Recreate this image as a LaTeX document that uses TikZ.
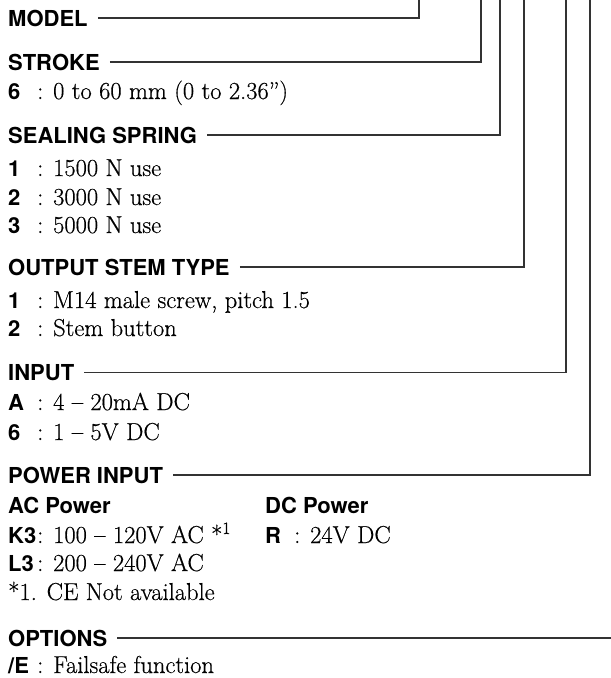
\documentclass[tikz,border=0pt]{standalone}
\usepackage{fontspec}
\setsansfont{TeX Gyre Heros}
\newfontfamily\srf{Latin Modern Roman}[Ligatures=TeX,FakeBold=0.5]
\tikzset{
  hd/.style={anchor=base west, inner sep=0pt, font=\fontsize{22}{26}\selectfont\sffamily\bfseries},
  item/.style={anchor=base west, inner sep=0pt, font=\fontsize{24.5}{29}\selectfont\srf},
  lead/.style={line width=1.1pt, draw=black!80},
}
\newcommand\cd[1]{\makebox[29pt][l]{\fontsize{22}{26}\selectfont\sffamily\bfseries #1}}
\begin{document}
\begin{tikzpicture}[x=1pt,y=-1pt]
\useasboundingbox (0,0) rectangle (611,678);
% top ends of the leaders
\coordinate (tmodel)  at (419,0);
\coordinate (tstroke) at (481,0);
\coordinate (tseal)   at (500,0);
\coordinate (tstem)   at (524,0);
\coordinate (tinput)  at (566,0);
\coordinate (tpower)  at (590,0);
\coordinate (redge)   at (611,0);
% headings
\node[hd] (model)  at (8,26)  {MODEL};
\node[hd] (stroke) at (8,70)  {STROKE};
\node[hd] (seal)   at (8,143) {SEALING SPRING};
\node[hd] (stem)   at (8,275) {OUTPUT STEM TYPE};
\node[hd] (input)  at (8,380) {INPUT};
\node[hd] (power)  at (8,483) {POWER INPUT};
\node[hd] (opt)    at (8,646) {OPTIONS};
% items
\node[item] (s6) at (8,99) {\cd{6}: 0 to 60 mm (0 to 2.36'')};
\node[item] (sp1) at (8,176) {\cd{1}: 1500 N use};
\node[item] (sp2) at (8,205) {\cd{2}: 3000 N use};
\node[item] (sp3) at (8,233) {\cd{3}: 5000 N use};
\node[item] (st1) at (8,308) {\cd{1}: M14 male screw, pitch 1.5};
\node[item] (st2) at (8,336) {\cd{2}: Stem button};
\node[item] (inA) at (8,410) {\cd{A}: 4 -- 20mA DC};
\node[item] (in6) at (8,440) {\cd{6}: 1 -- 5V DC};
\node[hd] (acp) at (8,513) {AC Power};
\node[hd] (dcp) at (265,513) {DC Power};
\node[item] (k3) at (8,543) {\cd{K3}: 100 -- 120V AC *\textsuperscript{1}};
\node[item] (r)  at (265,543) {\cd{R}: 24V DC};
\node[item] (l3) at (8,571) {\cd{L3}: 200 -- 240V AC};
\node[item] (fn) at (8,600) {*1. CE Not available};
\node[item] (oE) at (8,673) {\cd{/E}: Failsafe function};
% leaders
\draw[lead] ([xshift=10pt]model.east)  -| (tmodel);
\draw[lead] ([xshift=10pt]stroke.east) -| (tstroke);
\draw[lead] ([xshift=10pt]seal.east)   -| (tseal);
\draw[lead] ([xshift=10pt]stem.east)   -| (tstem);
\draw[lead] ([xshift=10pt]input.east)  -| (tinput);
\draw[lead] ([xshift=10pt]power.east)  -| (tpower);
\draw[lead] ([xshift=10pt]opt.east)    -- (opt.east -| redge);
\end{tikzpicture}
\end{document}
